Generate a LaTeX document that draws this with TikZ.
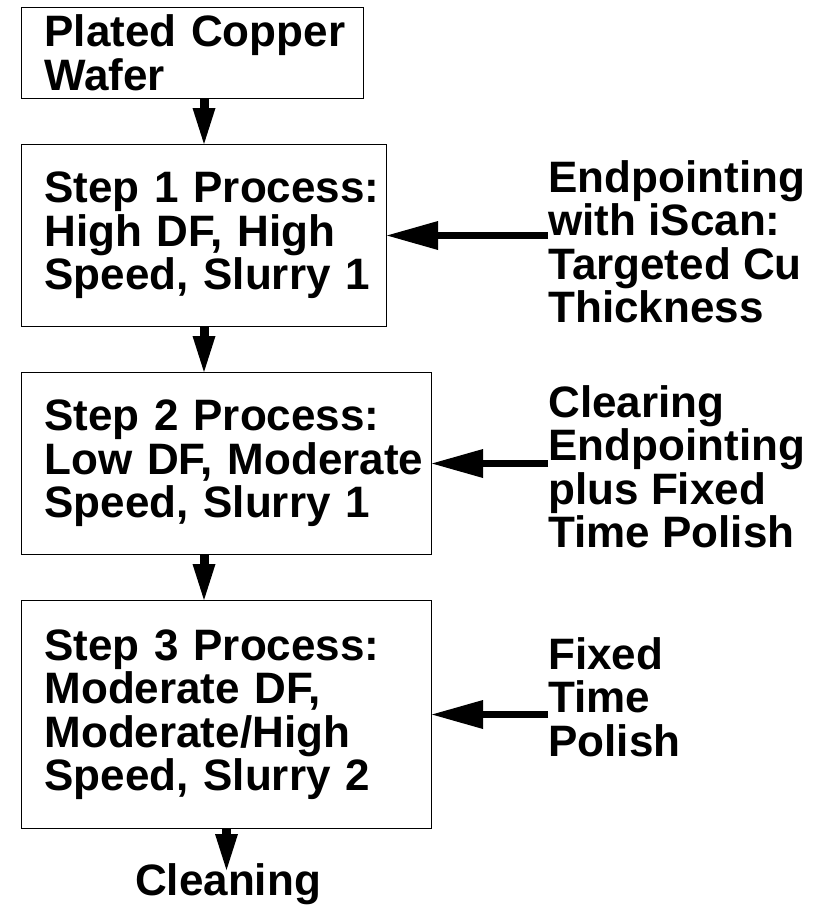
\documentclass[tikz,border=0pt]{standalone}
\usepackage{fontspec}
\setmainfont{Liberation Sans}
\usetikzlibrary{arrows.meta}
\hyphenpenalty=10000
\exhyphenpenalty=10000
\tikzset{
  flow font/.style={font=\fontsize{22pt}{21.75pt}\selectfont\bfseries},
  proc box/.style={draw=black,line width=.5pt,flow font,align=left,
    anchor=north west,inner xsep=11.5pt,inner ysep=2pt,text width=#1},
  side label/.style={flow font,align=left,inner sep=0pt,anchor=north west},
  down arrow/.style={-{Triangle[width=11.5pt,length=18pt,line width=0pt]},line width=4.5pt},
  side arrow/.style={-{Triangle[width=14.5pt,length=25.5pt,line width=0pt]},line width=3.75pt}
}
\begin{document}
\begin{tikzpicture}[x=.5pt,y=-.5pt]
  \useasboundingbox (0,0) rectangle (831,906);
  % process boxes
  \node[proc box=148pt,minimum height=45.5pt] (wafer) at (21,7) {Plated~Copper\\Wafer};
  \node[proc box=159.5pt,minimum height=91pt] (step1) at (21,144)
    {Step~1~Process:\\High DF, High\\Speed,~Slurry~1};
  \node[proc box=182pt,minimum height=91pt] (step2) at (21,372)
    {Step 2 Process:\\Low~DF,~Moderate\\Speed, Slurry 1};
  \node[proc box=182pt,minimum height=114pt] (step3) at (21,600)
    {Step 3 Process:\\Moderate DF,\\Moderate/High\\Speed, Slurry 2};
  \node[flow font,inner sep=0pt,anchor=north] (clean) at (228,863) {Cleaning};
  % endpoint labels
  \node[side label] (iscan) at (548,160) {Endpointing\\with iScan:\\Targeted Cu\\Thickness};
  \node[side label] (clear) at (548,385) {Clearing\\Endpointing\\plus Fixed\\Time Polish};
  \node[side label] (fixed) at (548,637) {Fixed\\Time\\Polish};
  % flow
  \draw[down arrow] (wafer.south -| step1.north) -- (step1.north);
  \draw[down arrow] (step1.south) -- (step1.south |- step2.north);
  \draw[down arrow] (step2.south -| step1.south) -- (step3.north -| step1.south);
  \draw[down arrow,shorten >=-3.5pt] (step3.south) -- (step3.south |- clean.north);
  \draw[side arrow] (iscan.west |- step1.east) -- (step1.east);
  \draw[side arrow] (clear.west |- step2.east) -- (step2.east);
  \draw[side arrow] (fixed.west |- step3.east) -- (step3.east);
\end{tikzpicture}
\end{document}
